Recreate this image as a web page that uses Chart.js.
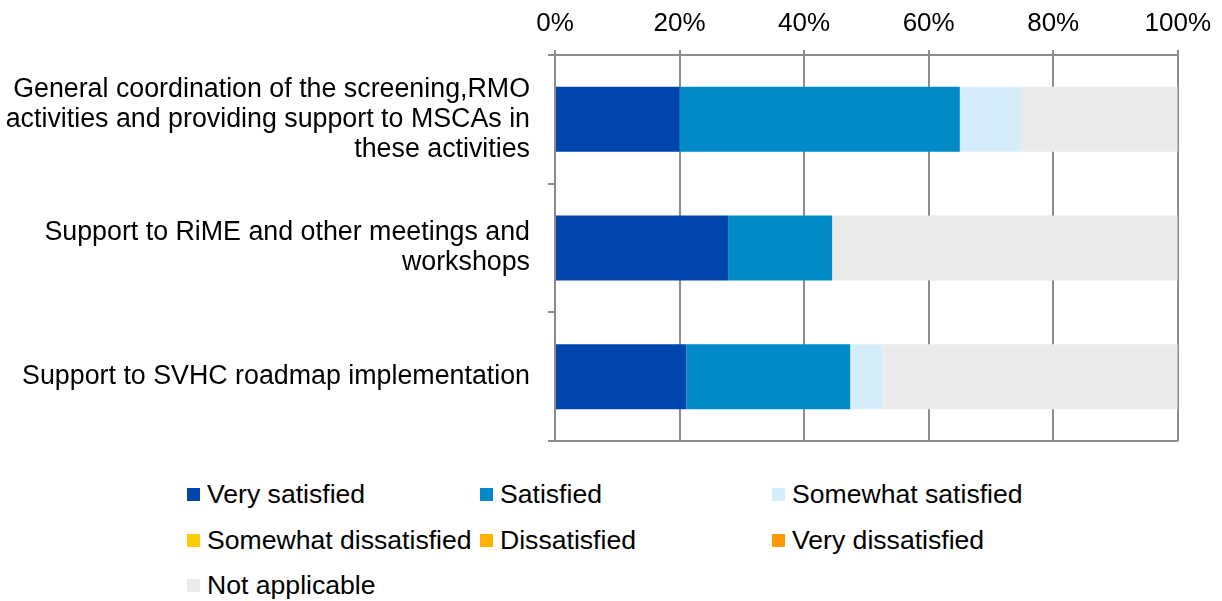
<!DOCTYPE html>
<html>
<head>
<meta charset="utf-8">
<script src="https://cdn.jsdelivr.net/npm/chart.js@4/dist/chart.umd.min.js"></script>
<style>
  html, body { margin: 0; padding: 0; background: #fff; }
  #wrap { position: relative; width: 1222px; height: 601px; }
  #chartBox { position: absolute; left: 0; top: 0; width: 1222px; height: 460px; }
  #legend { position: absolute; left: 187px; top: 479px; width: 900px;
            font-family: 'Liberation Sans', Arial, sans-serif; font-size: 26.6px; color: #000; }
  .item { position: absolute; display: flex; align-items: center; white-space: nowrap; line-height: 30px; }
  .sw { width: 13px; height: 13px; margin-right: 7px; }
</style>
</head>
<body>
<div id="wrap">
  <div id="chartBox"><canvas id="c"></canvas></div>
  <div id="legend"></div>
</div>
<script>
/* ── Dados ── */
const categories = [
  ['General coordination of the screening,RMO', 'activities and providing support to MSCAs in', 'these activities'],
  ['Support to RiME and other meetings and', 'workshops'],
  ['Support to SVHC roadmap implementation']
];
const seriesNames = [
  'Very satisfied', 'Satisfied', 'Somewhat satisfied',
  'Somewhat dissatisfied', 'Dissatisfied', 'Very dissatisfied', 'Not applicable'
];
const seriesColors = ['#0046AD', '#008BC8', '#D6EEF9', '#FFCC00', '#FFB300', '#FF9900', '#EAEAEA'];

const verySatisfied      = [20, 27.8, 21.1];
const satisfied          = [45, 16.7, 26.3];
const somewhatSatisfied  = [10, 0, 5.3];
const somewhatDissat     = [0, 0, 0];
const dissatisfied       = [0, 0, 0];
const veryDissatisfied   = [0, 0, 0];
const notApplicable      = [25, 55.5, 47.3];

const xTicks = [0, 20, 40, 60, 80, 100];

const seriesData = [verySatisfied, satisfied, somewhatSatisfied, somewhatDissat,
                    dissatisfied, veryDissatisfied, notApplicable];

const FONT = "'Liberation Sans', Arial, sans-serif";
Chart.defaults.font.family = FONT;
Chart.defaults.color = '#000';

const datasets = seriesNames.map((name, i) => ({
  label: name,
  data: seriesData[i],
  backgroundColor: seriesColors[i],
  borderWidth: 0,
  barPercentage: 0.505,
  categoryPercentage: 1,
}));

new Chart(document.getElementById('c'), {
  type: 'bar',
  data: { labels: categories, datasets },
  options: {
    indexAxis: 'y',
    responsive: true,
    maintainAspectRatio: false,
    animation: false,
    layout: { padding: { top: 8, right: 42, bottom: 19, left: 0 } },
    plugins: { legend: { display: false }, tooltip: { enabled: false } },
    scales: {
      x: {
        position: 'top',
        stacked: true,
        min: 0, max: 100,
        afterBuildTicks: s => { s.ticks = xTicks.map(v => ({ value: v })); },
        ticks: { callback: v => v + '%', font: { size: 26 }, color: '#000', padding: 11 },
        grid: { color: '#8c8c8c', lineWidth: 2, tickLength: 5 },
        border: { color: '#8c8c8c', width: 2 },
        afterFit: s => { s.height = 47; }
      },
      x2: {
        position: 'bottom',
        min: 0, max: 100,
        ticks: { display: false },
        grid: { display: false, drawTicks: false },
        border: { display: true, color: '#8c8c8c', width: 2 },
        afterFit: s => { s.height = 0; s.paddingLeft = 0; s.paddingRight = 0; }
      },
      y: {
        stacked: true,
        ticks: { font: { size: 26.8, lineHeight: 1.12 }, color: '#000', padding: 18 },
        grid: { drawOnChartArea: false, offset: true, color: '#8c8c8c', lineWidth: 2, tickLength: 7 },
        border: { color: '#8c8c8c', width: 2 },
        afterFit: s => { s.width = 555; s.paddingTop = 0; s.paddingBottom = 0; }
      }
    }
  }
});

/* ── Legenda em grade (3 colunas) ── */
const legend = document.getElementById('legend');
const colX = [0, 293, 585];
const rowY = [0, 46, 91];
seriesNames.forEach((name, i) => {
  const el = document.createElement('div');
  el.className = 'item';
  el.style.left = colX[i % 3] + 'px';
  el.style.top = rowY[Math.floor(i / 3)] + 'px';
  el.innerHTML = `<span class="sw" style="background:${seriesColors[i]}"></span>${name}`;
  legend.appendChild(el);
});
</script>
</body>
</html>
